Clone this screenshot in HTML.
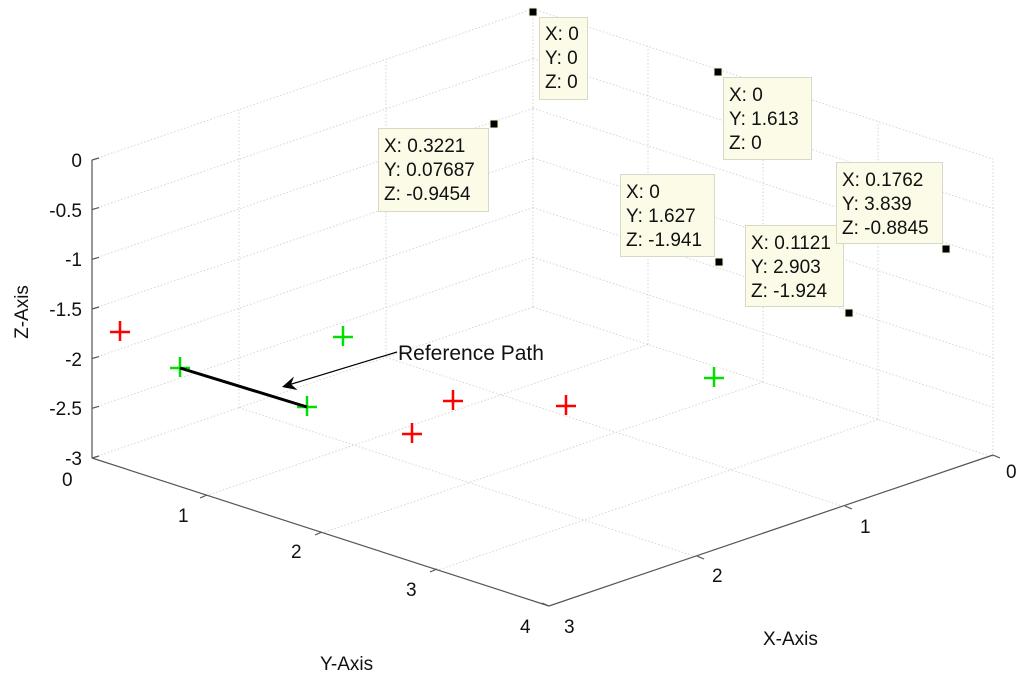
<!DOCTYPE html>
<html><head><meta charset="utf-8"><style>
html,body{margin:0;padding:0;background:#fff;}
svg{display:block;font-family:"Liberation Sans",Arial,sans-serif;}
.g{stroke:#d6d6d6;stroke-width:1;stroke-dasharray:1.5,2;fill:none;}
.ax{stroke:#555;stroke-width:1.2;fill:none;}
.t{font-size:19px;fill:#111;}
.tip rect{fill:#fbfbe8;stroke:#d8d8c8;stroke-width:1;}
.tip text{font-size:19px;fill:#111;}
.r{stroke:#ff0000;stroke-width:2.5;}
.gr{stroke:#00e000;stroke-width:2.5;}
</style></head><body>
<svg width="1024" height="677" viewBox="0 0 1024 677" xmlns="http://www.w3.org/2000/svg">
<g class="g">
<line x1="533" y1="9" x2="92" y2="160"/>
<line x1="533" y1="58.6" x2="92" y2="209.6"/>
<line x1="533" y1="108.3" x2="92" y2="259.3"/>
<line x1="533" y1="158" x2="92" y2="309"/>
<line x1="533" y1="207.6" x2="92" y2="358.6"/>
<line x1="533" y1="257.3" x2="92" y2="408.3"/>
<line x1="533" y1="307" x2="92" y2="458"/>
<line x1="386" y1="357" x2="386" y2="59"/>
<line x1="239" y1="408" x2="239" y2="110"/>
<line x1="533" y1="307" x2="533" y2="9"/>
<line x1="533" y1="9" x2="993" y2="159"/>
<line x1="533" y1="58.6" x2="993" y2="208.6"/>
<line x1="533" y1="108.3" x2="993" y2="258.3"/>
<line x1="533" y1="158" x2="993" y2="308"/>
<line x1="533" y1="207.6" x2="993" y2="357.6"/>
<line x1="533" y1="257.3" x2="993" y2="407.3"/>
<line x1="533" y1="307" x2="993" y2="457"/>
<line x1="648" y1="344.5" x2="648" y2="46.5"/>
<line x1="763" y1="382" x2="763" y2="84"/>
<line x1="878" y1="419.5" x2="878" y2="121.5"/>
<line x1="993" y1="457" x2="993" y2="159"/>
<line x1="648" y1="344.5" x2="207" y2="495.4"/>
<line x1="763" y1="382" x2="322" y2="533"/>
<line x1="878" y1="419.5" x2="437" y2="570.4"/>
<line x1="386" y1="357.3" x2="846" y2="507.3"/>
<line x1="239" y1="407.6" x2="699" y2="557.6"/>
</g>
<g class="ax">
<line x1="92" y1="160" x2="92" y2="458"/>
<line x1="92" y1="458" x2="549" y2="606"/>
<line x1="549" y1="606" x2="993" y2="455"/>
<line x1="92" y1="160" x2="99" y2="158"/>
<line x1="92" y1="209.6" x2="99" y2="207.6"/>
<line x1="92" y1="259.3" x2="99" y2="257.3"/>
<line x1="92" y1="309" x2="99" y2="307"/>
<line x1="92" y1="358.6" x2="99" y2="356.6"/>
<line x1="92" y1="408.3" x2="99" y2="406.3"/>
<line x1="92" y1="458" x2="99" y2="456"/>
<line x1="207" y1="495" x2="200" y2="498"/>
<line x1="322" y1="532" x2="315" y2="535"/>
<line x1="437" y1="569" x2="430" y2="572"/>
<line x1="549" y1="606" x2="542" y2="603"/>
<line x1="697" y1="556" x2="704" y2="559"/>
<line x1="845" y1="506" x2="852" y2="509"/>
<line x1="993" y1="455" x2="1000" y2="458"/>
</g>
<g class="t">
<text x="82" y="167" text-anchor="end">0</text>
<text x="82" y="217" text-anchor="end">-0.5</text>
<text x="82" y="266" text-anchor="end">-1</text>
<text x="82" y="316" text-anchor="end">-1.5</text>
<text x="82" y="366" text-anchor="end">-2</text>
<text x="82" y="415" text-anchor="end">-2.5</text>
<text x="82" y="465" text-anchor="end">-3</text>
<text x="62" y="486">0</text>
<text x="178" y="522">1</text>
<text x="291" y="558">2</text>
<text x="406" y="596">3</text>
<text x="520" y="633">4</text>
<text x="564" y="633">3</text>
<text x="712" y="582">2</text>
<text x="860" y="533">1</text>
<text x="1006" y="478">0</text>
<text x="763" y="645">X-Axis</text>
<text x="320" y="670">Y-Axis</text>
<text transform="translate(28,312) rotate(-90)" text-anchor="middle">Z-Axis</text>
</g>
<g>
<path class="r" d="M110,332h20M120,321v20"/>
<path class="r" d="M443,401h20M453,390v20"/>
<path class="r" d="M402,434h20M412,423v20"/>
<path class="r" d="M556,406h20M566,395v20"/>
<path class="gr" d="M333,337h20M343,326v20"/>
<path class="gr" d="M170,368h20M180,357v20"/>
<path class="gr" d="M297,407h20M307,396v20"/>
<path class="gr" d="M704,378h20M714,367v20"/>
</g>
<line x1="180" y1="368" x2="307" y2="407" stroke="#000" stroke-width="3"/>
<line x1="397" y1="352" x2="290" y2="384.5" stroke="#000" stroke-width="1.2"/>
<path d="M282,387 L294,376.5 L291,384.3 L297.5,390 Z" fill="#000"/>
<text x="398" y="360" font-size="21" fill="#111">Reference Path</text>
<g class="tip">
<rect x="539.5" y="17.5" width="48" height="82"/>
<text x="545" y="40">X: 0</text><text x="545" y="64">Y: 0</text><text x="545" y="88">Z: 0</text>
<rect x="723.5" y="77.5" width="88" height="82"/>
<text x="729" y="101">X: 0</text><text x="729" y="125">Y: 1.613</text><text x="729" y="149">Z: 0</text>
<rect x="378.5" y="128.5" width="110" height="83"/>
<text x="384" y="152">X: 0.3221</text><text x="384" y="176">Y: 0.07687</text><text x="384" y="200">Z: -0.9454</text>
<rect x="620.5" y="174.5" width="94" height="82"/>
<text x="626" y="198">X: 0</text><text x="626" y="222">Y: 1.627</text><text x="626" y="246">Z: -1.941</text>
<rect x="745.5" y="225.5" width="98" height="81"/>
<text x="751" y="249">X: 0.1121</text><text x="751" y="273">Y: 2.903</text><text x="751" y="297">Z: -1.924</text>
<rect x="836.5" y="162.5" width="106" height="81"/>
<text x="842" y="186">X: 0.1762</text><text x="842" y="210">Y: 3.839</text><text x="842" y="234">Z: -0.8845</text>
</g>
<g fill="#000" stroke="#f4f4d0" stroke-width="1">
<rect x="529" y="8" width="8" height="8"/>
<rect x="714" y="68" width="8" height="8"/>
<rect x="490" y="120" width="8" height="8"/>
<rect x="715" y="258" width="8" height="8"/>
<rect x="942" y="245" width="8" height="8"/>
<rect x="845" y="309" width="8" height="8"/>
</g>
</svg>
</body></html>
